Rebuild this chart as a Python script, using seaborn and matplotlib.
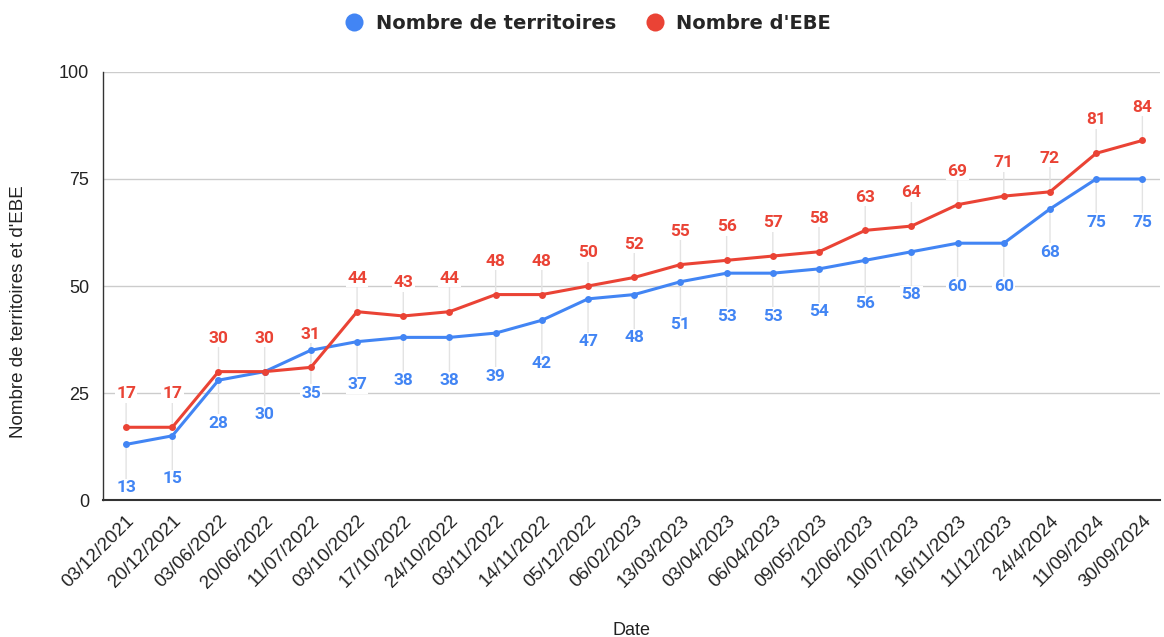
import matplotlib
matplotlib.use("Agg")
import matplotlib.pyplot as plt
import seaborn as sns
import pandas as pd
from matplotlib.lines import Line2D

dates = ["03/12/2021", "20/12/2021", "03/06/2022", "20/06/2022", "11/07/2022",
         "03/10/2022", "17/10/2022", "24/10/2022", "03/11/2022", "14/11/2022",
         "05/12/2022", "06/02/2023", "13/03/2023", "03/04/2023", "06/04/2023",
         "09/05/2023", "12/06/2023", "10/07/2023", "16/11/2023", "11/12/2023",
         "24/4/2024", "11/09/2024", "30/09/2024"]
territoires = [13, 15, 28, 30, 35, 37, 38, 38, 39, 42, 47, 48, 51, 53, 53, 54,
               56, 58, 60, 60, 68, 75, 75]
ebe = [17, 17, 30, 30, 31, 44, 43, 44, 48, 48, 50, 52, 55, 56, 57, 58, 63, 64,
       69, 71, 72, 81, 84]
series_names = ["Nombre de territoires", "Nombre d'EBE"]
colors = ["#4285F4", "#EA4335"]

sns.set_theme(style="white")
plt.rcParams['font.family'] = ['Liberation Sans', 'DejaVu Sans']

idx = list(range(len(dates)))
df = pd.DataFrame({
    "i": idx * 2,
    "val": territoires + ebe,
    "serie": [series_names[0]] * len(dates) + [series_names[1]] * len(dates),
})

fig = plt.figure(figsize=(11.64, 6.37), dpi=100)
ax = fig.add_axes([0.0885, 0.215, 0.908, 0.672])

# leader lines
for i, (t, e) in enumerate(zip(territoires, ebe)):
    ax.annotate("", xy=(i, t), xytext=(0, -34), textcoords="offset points",
                arrowprops=dict(arrowstyle="-", color="#e3e3e3", lw=1,
                                shrinkA=0, shrinkB=0), zorder=1)
    ax.annotate("", xy=(i, e), xytext=(0, 28), textcoords="offset points",
                arrowprops=dict(arrowstyle="-", color="#e3e3e3", lw=1,
                                shrinkA=0, shrinkB=0), zorder=1)

sns.lineplot(data=df, x="i", y="val", hue="serie", palette=colors,
             hue_order=series_names, marker="o", markersize=5,
             markeredgewidth=0, linewidth=2.2, ax=ax, legend=False,
             sort=False, zorder=3)

for i, (t, e) in enumerate(zip(territoires, ebe)):
    ax.annotate(str(t), xy=(i, t), xytext=(0, -31), textcoords="offset points",
                ha="center", va="center", color=colors[0], fontsize=12.5,
                fontweight="bold", family="Roboto", zorder=4,
                bbox=dict(facecolor="white", edgecolor="none", pad=1))
    ax.annotate(str(e), xy=(i, e), xytext=(0, 24), textcoords="offset points",
                ha="center", va="center", color=colors[1], fontsize=12.5,
                fontweight="bold", family="Roboto", zorder=4,
                bbox=dict(facecolor="white", edgecolor="none", pad=1))

ax.set_xlim(-0.5, 22.38)
ax.set_ylim(0, 100)
ax.set_yticks([0, 25, 50, 75, 100])
ax.yaxis.grid(True, color="#cccccc", lw=1)
ax.set_axisbelow(True)
ax.set_xticks(idx)
ax.set_xticklabels(dates, rotation=45, ha="right", rotation_mode="anchor",
                   fontsize=13.5, color="#222222")
ax.tick_params(axis="y", labelsize=13, colors="#222222", length=0, pad=10)
ax.tick_params(axis="x", length=0, pad=9)
for s in ["top", "right"]:
    ax.spines[s].set_visible(False)
ax.spines["left"].set_color("#333333")
ax.spines["left"].set_linewidth(1)
ax.spines["bottom"].set_color("#333333")
ax.spines["bottom"].set_linewidth(1.5)
ax.set_xlabel("Date", fontsize=13, color="#222222", labelpad=22)
ax.set_ylabel("Nombre de territoires et d'EBE", fontsize=13.5, color="#222222")
ax.yaxis.label.set_va("center")
ax.yaxis.set_label_coords(-0.080, 0.44)

handles = [Line2D([], [], marker="o", color="none", markerfacecolor=c,
                  markeredgewidth=0, markersize=13) for c in colors]
fig.legend(handles, series_names, loc="center", bbox_to_anchor=(0.505, 0.963),
           ncol=2, frameon=False,
           prop=dict(size=14, weight="bold", family="DejaVu Sans"),
           handletextpad=0.6, columnspacing=1.5, handlelength=1.0)

fig.savefig("out.png", dpi=100)
